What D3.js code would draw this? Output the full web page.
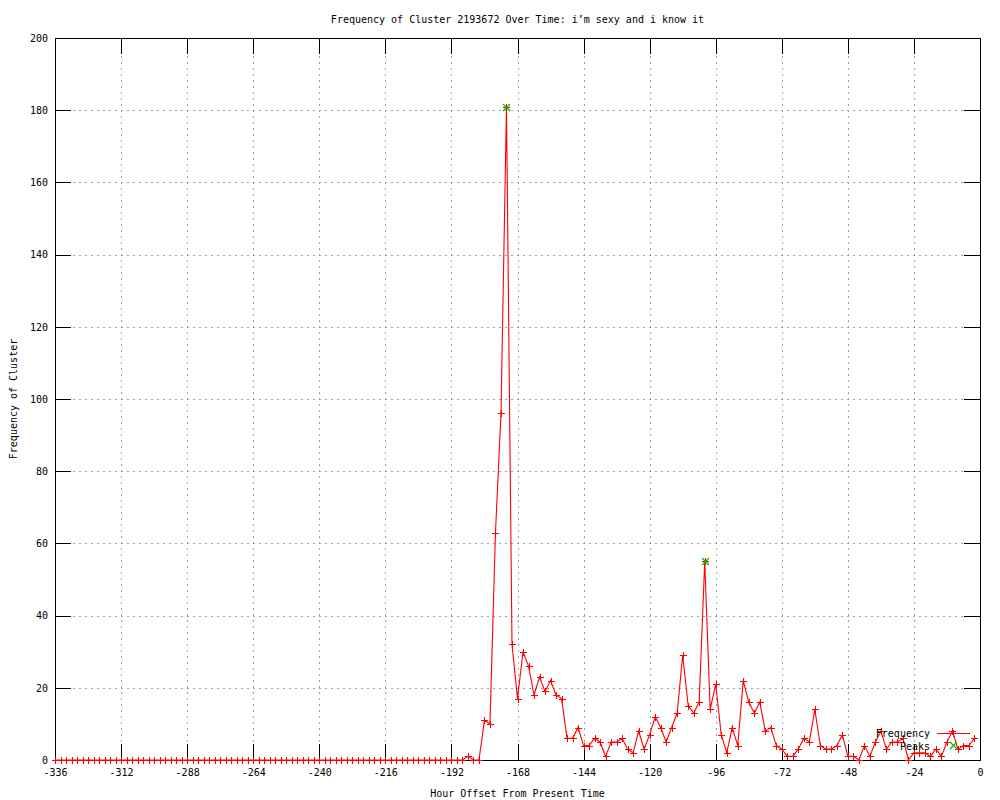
<!DOCTYPE html>
<html>
<head>
<meta charset="utf-8">
<script src="https://cdn.jsdelivr.net/npm/d3@7"></script>
<style>
  html, body { margin: 0; padding: 0; background: #fff; }
  svg { display: block; }
  text { font-family: "DejaVu Sans Mono", "Liberation Mono", monospace; font-size: 10px; fill: #000; }
</style>
</head>
<body>
<svg id="chart" width="1000" height="800"></svg>
<script>
// ---- data ----
const titleText = "Frequency of Cluster 2193672 Over Time: i\u2019m sexy and i know it";
const xLabel = "Hour Offset From Present Time";
const yLabel = "Frequency of Cluster";
const startHour = -336;   // first bin
const binHours = 2;       // hours per bin
const frequency = [
  0,0,0,0,0,0,0,0,0,0,
  0,0,0,0,0,0,0,0,0,0,
  0,0,0,0,0,0,0,0,0,0,
  0,0,0,0,0,0,0,0,0,0,
  0,0,0,0,0,0,0,0,0,0,
  0,0,0,0,0,0,0,0,0,0,
  0,0,0,0,0,0,0,0,0,0,
  0,0,0,0,0,
  1,0,0,11,10,63,96,181,32,17,
  30,26,18,23,19,22,18,17,6,6,
  9,4,4,6,5,1,5,5,6,3,
  2,8,3,7,12,9,5,9,13,29,
  15,13,16,55,14,21,7,2,9,4,
  22,16,13,16,8,9,4,3,1,1,
  3,6,5,14,4,3,3,4,7,1,
  1,0,4,1,5,8,3,5,5,6,
  0,2,2,2,1,3,1,5,8,3,
  4,4,6
];
const peakHours = [-172, -100];
const peakValues = [181, 55];
const xTicks = [-336,-312,-288,-264,-240,-216,-192,-168,-144,-120,-96,-72,-48,-24,0];
const yTicks = [0,20,40,60,80,100,120,140,160,180,200];
const legendNames = ["Frequency", "Peaks"];

// ---- drawing ----
const svg = d3.select("#chart");
const L = 55, R = 980, T = 38, B = 760;
const x = d3.scaleLinear().domain([-336, 0]).range([L, R]);
const y = d3.scaleLinear().domain([0, 200]).range([B, T]);
const red = "#ff0000", green = "#00c000", grid = "#a0a0a0";

const freqData = frequency.map((v, i) => ({h: startHour + i * binHours, v}));
const peakData = peakHours.map((h, i) => ({h, v: peakValues[i]}));

// grid
const g = svg.append("g").attr("shape-rendering", "crispEdges");
g.selectAll(".vg").data(xTicks).join("line")
  .attr("x1", d => Math.round(x(d)) + 0.5).attr("x2", d => Math.round(x(d)) + 0.5)
  .attr("y1", T).attr("y2", B)
  .attr("stroke", grid).attr("stroke-dasharray", "2,4");
g.selectAll(".hg").data(yTicks).join("line")
  .attr("y1", d => Math.round(y(d)) + 0.5).attr("y2", d => Math.round(y(d)) + 0.5)
  .attr("x1", L).attr("x2", R)
  .attr("stroke", grid).attr("stroke-dasharray", "2,4");

// axes
function styleAxis(sel) {
  sel.select(".domain").remove();
  sel.selectAll("line").attr("stroke", "#000").attr("shape-rendering", "crispEdges");
  sel.selectAll("text").attr("font-family", null).attr("font-size", null);
  sel.attr("font-family", null).attr("font-size", null);
}
svg.append("g").attr("transform", `translate(0,${B})`)
  .call(d3.axisBottom(x).tickValues(xTicks).tickSize(-16).tickPadding(9).tickFormat(d => String(d)))
  .call(styleAxis);
svg.append("g").attr("transform", `translate(0,${T})`)
  .call(d3.axisTop(x).tickValues(xTicks).tickSize(-16).tickFormat(""))
  .call(styleAxis);
svg.append("g").attr("transform", `translate(${L},0)`)
  .call(d3.axisLeft(y).tickValues(yTicks).tickSize(-16).tickPadding(7).tickFormat(d => String(d)))
  .call(styleAxis);
svg.append("g").attr("transform", `translate(${R},0)`)
  .call(d3.axisRight(y).tickValues(yTicks).tickSize(-16).tickFormat(""))
  .call(styleAxis);

// border
svg.append("rect").attr("x", L + 0.5).attr("y", T + 0.5)
  .attr("width", R - L).attr("height", B - T)
  .attr("fill", "none").attr("stroke", "#000").attr("shape-rendering", "crispEdges");

// frequency line
const line = d3.line().x(d => x(d.h)).y(d => y(d.v));
svg.append("path").datum(freqData)
  .attr("d", line).attr("fill", "none").attr("stroke", red).attr("stroke-width", 1.1);

// plus markers
const plus = (cx, cy, s) => `M${cx - s},${cy}H${cx + s}M${cx},${cy - s}V${cy + s}`;
const cross = (cx, cy, s) => `M${cx - s},${cy - s}L${cx + s},${cy + s}M${cx - s},${cy + s}L${cx + s},${cy - s}`;
svg.append("g").selectAll("path").data(freqData).join("path")
  .attr("d", d => plus(Math.round(x(d.h)) + 0.5, Math.round(y(d.v)) + 0.5, 3.5))
  .attr("stroke", red).attr("stroke-width", 1).attr("fill", "none")
  .attr("shape-rendering", "crispEdges");

// peak markers
svg.append("g").selectAll("path").data(peakData).join("path")
  .attr("d", d => cross(Math.round(x(d.h)) + 0.5, Math.round(y(d.v)) + 0.5, 3.5))
  .attr("stroke", green).attr("stroke-width", 1.3).attr("fill", "none");

// legend
const lg = svg.append("g");
lg.append("text").attr("x", 930).attr("y", 733).attr("dy", "0.35em")
  .attr("text-anchor", "end").text(legendNames[0]);
lg.append("line").attr("x1", 937).attr("x2", 970).attr("y1", 733.5).attr("y2", 733.5)
  .attr("stroke", red).attr("shape-rendering", "crispEdges");
lg.append("path").attr("d", plus(953.5, 733.5, 3.5)).attr("stroke", red).attr("shape-rendering", "crispEdges");
lg.append("text").attr("x", 930).attr("y", 746).attr("dy", "0.35em")
  .attr("text-anchor", "end").text(legendNames[1]);
lg.append("path").attr("d", cross(953.5, 745.5, 3.5)).attr("stroke", green).attr("stroke-width", 1.3).attr("fill", "none");

// titles
svg.append("text").attr("x", (L + R) / 2).attr("y", 19).attr("dy", "0.35em")
  .attr("text-anchor", "middle").text(titleText);
svg.append("text").attr("x", (L + R) / 2).attr("y", 793).attr("dy", "0.35em")
  .attr("text-anchor", "middle").text(xLabel);
svg.append("text").attr("transform", `translate(13,${(T + B) / 2}) rotate(-90)`)
  .attr("dy", "0.35em").attr("text-anchor", "middle").text(yLabel);
</script>
</body>
</html>
